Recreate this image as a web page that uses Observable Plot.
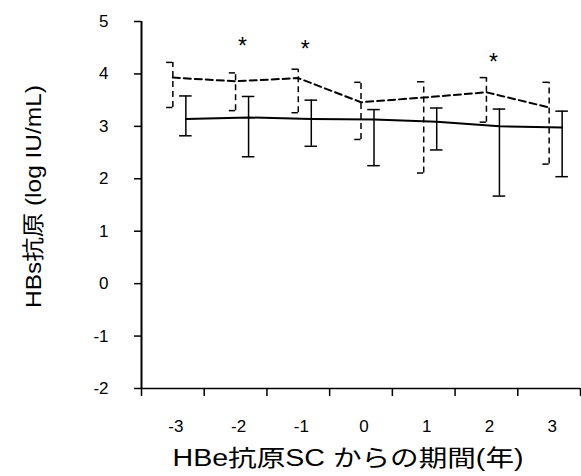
<!DOCTYPE html>
<html>
<head>
<meta charset="utf-8">
<script src="https://cdn.jsdelivr.net/npm/d3@7"></script>
<script src="https://cdn.jsdelivr.net/npm/@observablehq/plot@0.6"></script>
<style>
  html, body { margin: 0; padding: 0; background: white; }
</style>
</head>
<body>
<div id="chart"></div>
<script>
// Data
const years = [-3, -2, -1, 0, 1, 2, 3];
const solidMean = [3.14, 3.17, 3.14, 3.13, 3.09, 3.00, 2.98];
const solidHi   = [3.58, 3.57, 3.50, 3.32, 3.35, 3.33, 3.29];
const solidLo   = [2.82, 2.42, 2.62, 2.25, 2.55, 1.67, 2.04];
const dashMean  = [3.93, 3.86, 3.92, 3.46, 3.55, 3.65, 3.36];
const dashHi    = [4.22, 4.02, 4.09, 3.84, 3.85, 3.93, 3.84];
const dashLo    = [3.36, 3.30, 3.26, 2.75, 2.11, 3.08, 2.28];
const starYears = [-2, -1, 2];
const starValues = [4.57, 4.52, 4.27];
const yTicks = [-2, -1, 0, 1, 2, 3, 4, 5];
const xBoundaries = [-3.5, -2.5, -1.5, -0.5, 0.5, 1.5, 2.5, 3.5];
const yTitle = "HBs抗原 (log IU/mL)";
const xTitle = "HBe抗原SC からの期間(年)";

const data = years.map((yr, i) => ({
  year: yr,
  sm: solidMean[i], sh: solidHi[i], sl: solidLo[i],
  dm: dashMean[i], dh: dashHi[i], dl: dashLo[i]
}));
const stars = starYears.map((yr, i) => ({year: yr, v: starValues[i]}));

const capHalf = 0.1;   // cap half-width in x units
const solidShift = 13; // px offset of the solid series

const chart = Plot.plot({
  width: 581,
  height: 476,
  marginLeft: 141,
  marginRight: 1,
  marginTop: 21,
  marginBottom: 88,
  style: {
    fontFamily: "'Liberation Sans', Arial, 'Noto Sans CJK JP', sans-serif",
    fontSize: "17px",
    color: "black",
    background: "white",
    overflow: "visible"
  },
  x: {domain: [-3.5, 3.5]},
  y: {domain: [-2, 5]},
  marks: [
    Plot.axisY({
      ticks: yTicks, tickSize: 7, tickPadding: 26, strokeWidth: 1.5,
      tickFormat: d => String(d), fontSize: 17, label: null
    }),
    Plot.axisX({
      ticks: xBoundaries, tickSize: 8, strokeWidth: 1.5,
      tickFormat: () => "", label: null
    }),
    Plot.axisX({
      ticks: years, tickSize: 0, tickPadding: 31, dx: 3,
      tickFormat: d => String(d), fontSize: 17, label: null
    }),
    Plot.ruleX([-3.5], {strokeWidth: 2}),
    Plot.ruleY([-2], {strokeWidth: 1.5}),

    // axis titles
    Plot.text([yTitle], {frameAnchor: "left", rotate: -90, dx: -108, dy: 103, fontSize: 22, lineAnchor: "middle", textAnchor: "start", fill: "black"}),
    Plot.text([xTitle], {frameAnchor: "bottom", dx: -13, dy: 61, fontSize: 23, lineAnchor: "top", fill: "black"}),

    // dashed series
    Plot.line(data, {x: "year", y: "dm", stroke: "black", strokeWidth: 2, strokeDasharray: "7,4"}),
    Plot.ruleX(data, {x: "year", y1: "dl", y2: "dh", stroke: "black", strokeWidth: 1.5, strokeDasharray: "6,4"}),
    Plot.ruleY(data, {y: "dh", x1: d => d.year - capHalf, x2: "year", stroke: "black", strokeWidth: 1.5}),
    Plot.ruleY(data, {y: "dl", x1: d => d.year - capHalf, x2: "year", stroke: "black", strokeWidth: 1.5}),

    // solid series
    Plot.line(data, {x: "year", y: "sm", dx: solidShift, stroke: "black", strokeWidth: 2}),
    Plot.ruleX(data, {x: "year", y1: "sl", y2: "sh", dx: solidShift, stroke: "black", strokeWidth: 1.5}),
    Plot.ruleY(data, {y: "sh", x1: d => d.year - capHalf, x2: d => d.year + capHalf, dx: solidShift, stroke: "black", strokeWidth: 1.5}),
    Plot.ruleY(data, {y: "sl", x1: d => d.year - capHalf, x2: d => d.year + capHalf, dx: solidShift, stroke: "black", strokeWidth: 1.5}),

    // significance asterisks
    Plot.text(stars, {x: "year", y: "v", text: () => "*", dx: 7, dy: 3, fontSize: 23, fill: "black"})
  ]
});
// stretch the titles to the reference's text widths
d3.select(chart).selectAll("text").each(function () {
  if (this.textContent === xTitle) { this.setAttribute("textLength", 351); this.setAttribute("lengthAdjust", "spacingAndGlyphs"); }
  if (this.textContent === yTitle) { this.setAttribute("textLength", 223); this.setAttribute("lengthAdjust", "spacingAndGlyphs"); }
});
document.getElementById("chart").appendChild(chart);
</script>
</body>
</html>
